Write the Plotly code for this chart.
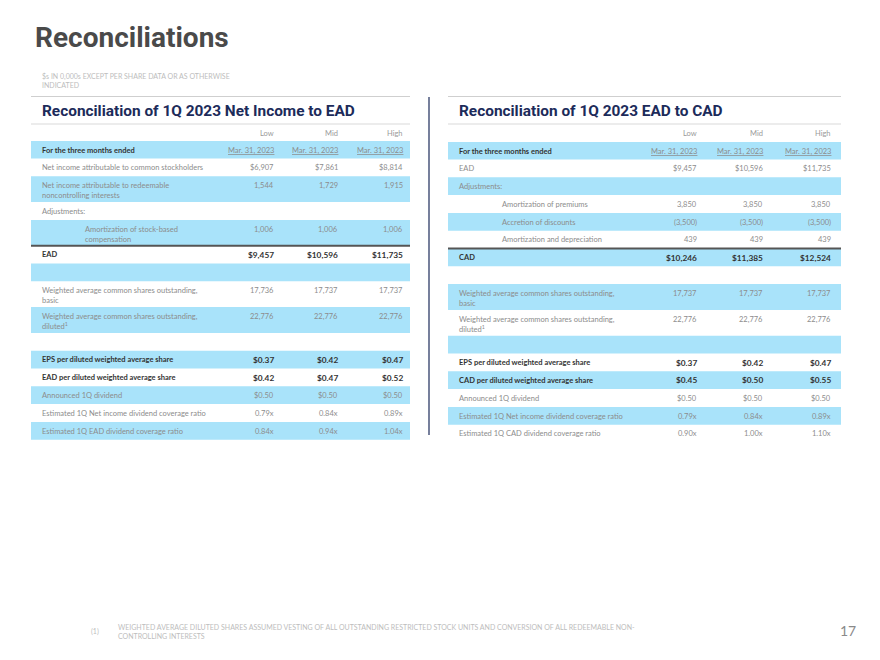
import plotly.graph_objects as go

# slide texts
title = "Reconciliations"
subtitle = "$s IN 0,000s EXCEPT PER SHARE DATA OR AS OTHERWISE<br>INDICATED"
left_title = "Reconciliation of 1Q 2023 Net Income to EAD"
right_title = "Reconciliation of 1Q 2023 EAD to CAD"
columns = ["Low", "Mid", "High"]
period_label = "For the three months ended"
periods = ["Mar. 31, 2023", "Mar. 31, 2023", "Mar. 31, 2023"]
footnote_num = "(1)"
footnote = ("WEIGHTED AVERAGE DILUTED SHARES ASSUMED VESTING OF ALL OUTSTANDING RESTRICTED STOCK UNITS AND CONVERSION OF ALL REDEEMABLE NON-"
            "<br>CONTROLLING INTERESTS")
page_num = "17"

# left table: net income -> EAD
left_labels = [
    "Net income attributable to common stockholders",
    "Net income attributable to redeemable<br>noncontrolling interests",
    "Adjustments:",
    "Amortization of stock-based<br>compensation",
    "EAD",
    "",
    "Weighted average common shares outstanding,<br>basic",
    "Weighted average common shares outstanding,<br>diluted<sup>1</sup>",
    "",
    "EPS per diluted weighted average share",
    "EAD per diluted weighted average share",
    "Announced 1Q dividend",
    "Estimated 1Q Net income dividend coverage ratio",
    "Estimated 1Q EAD dividend coverage ratio",
]
left_low = ["$6,907", "1,544", "", "1,006", "$9,457", "", "17,736", "22,776", "", "$0.37", "$0.42", "$0.50", "0.79x", "0.84x"]
left_mid = ["$7,861", "1,729", "", "1,006", "$10,596", "", "17,737", "22,776", "", "$0.42", "$0.47", "$0.50", "0.84x", "0.94x"]
left_high = ["$8,814", "1,915", "", "1,006", "$11,735", "", "17,737", "22,776", "", "$0.47", "$0.52", "$0.50", "0.89x", "1.04x"]

# right table: EAD -> CAD
right_labels = [
    "EAD",
    "Adjustments:",
    "Amortization of premiums",
    "Accretion of discounts",
    "Amortization and depreciation",
    "CAD",
    "",
    "Weighted average common shares outstanding,<br>basic",
    "Weighted average common shares outstanding,<br>diluted<sup>1</sup>",
    "",
    "EPS per diluted weighted average share",
    "CAD per diluted weighted average share",
    "Announced 1Q dividend",
    "Estimated 1Q Net income dividend coverage ratio",
    "Estimated 1Q CAD dividend coverage ratio",
]
right_low = ["$9,457", "", "3,850", "(3,500)", "439", "$10,246", "", "17,737", "22,776", "", "$0.37", "$0.45", "$0.50", "0.79x", "0.90x"]
right_mid = ["$10,596", "", "3,850", "(3,500)", "439", "$11,385", "", "17,737", "22,776", "", "$0.42", "$0.50", "$0.50", "0.84x", "1.00x"]
right_high = ["$11,735", "", "3,850", "(3,500)", "439", "$12,524", "", "17,737", "22,776", "", "$0.47", "$0.55", "$0.50", "0.89x", "1.10x"]

# styling per row
left_bold = [4, 9, 10]
left_indent = [3]
left_rule = 4
right_bold = [5, 10, 11]
right_indent = [2, 3, 4]
right_rule = 5

BAND = "#a9e3fa"
GREY = "#8c8c8c"
DARK = "#333333"
NAVY = "#1c2b5a"
BODY = "Lato, 'Open Sans', sans-serif"
HEAD = "Roboto, Arial, sans-serif"
SINGLE = 17.8
DOUBLE = 25.8
OFF = 8  # page body margin, so axis units match screen pixels

shapes = []
annotations = []


def text(x, y, s, size, color, xanchor="left", yanchor="middle", family=BODY):
    if not s:
        return
    annotations.append(dict(x=x, y=y, xref="x", yref="y", text=s, showarrow=False,
                            xanchor=xanchor, yanchor=yanchor, align=xanchor,
                            font=dict(size=size, color=color, family=family),
                            borderpad=0))


def line(x0, x1, y0, y1, color, width):
    shapes.append(dict(type="line", xref="x", yref="y", x0=x0, x1=x1, y0=y0, y1=y1,
                       line=dict(color=color, width=width)))


def band(x0, x1, y0, y1):
    shapes.append(dict(type="rect", xref="x", yref="y", x0=x0, x1=x1, y0=y0, y1=y1,
                       fillcolor=BAND, line=dict(width=0), layer="below"))


def draw_table(x0, x1, lab_x, ind_x, cols_x, heading, labels, low, mid, high,
               bold, indent, rule, head_top):
    line(x0, x1, 96.5, 96.5, "#cfcfcf", 1)
    text(lab_x, 110.5, "<b>" + heading + "</b>", 15.4, NAVY, family=HEAD)
    line(x0, x1, 124, 124, "#d9d9d9", 1)
    for cx, c in zip(cols_x, columns):
        text(cx, 133.5, c, 7.5, "#9a9a9a", xanchor="right")
    band(x0, x1, head_top, head_top + 17.5)
    text(lab_x, head_top + 9, "<b>" + period_label + "</b>", 7.5, DARK)
    for cx, p in zip(cols_x, periods):
        text(cx, head_top + 9, "<u>" + p + "</u>", 7.5, GREY, xanchor="right")
    y = head_top + 17.5
    for i, lab in enumerate(labels):
        h = DOUBLE if "<br>" in lab else SINGLE
        if i % 2 == 1:
            band(x0, x1, y, y + h)
        if i == rule:
            line(x0, x1, y, y, "#555555", 2)
        is_bold = i in bold
        lx = ind_x if i in indent else lab_x
        ty = y + 3.6
        if lab:
            if is_bold:
                text(lx, ty, "<b>" + lab + "</b>", 7.5, DARK, yanchor="top")
            else:
                text(lx, ty, lab, 7.5, GREY, yanchor="top")
        for cx, v in zip(cols_x, (low[i], mid[i], high[i])):
            if v == "":
                continue
            if is_bold:
                text(cx, ty - 0.5, "<b>" + v + "</b>", 8.3, DARK, xanchor="right", yanchor="top")
            else:
                text(cx, ty, v, 7.5, GREY, xanchor="right", yanchor="top")
        y += h


draw_table(31, 410, 41, 84, [275, 339, 404], left_title, left_labels,
           left_low, left_mid, left_high, left_bold, left_indent, left_rule, 141)
draw_table(448, 841, 458, 501, [698, 764, 832], right_title, right_labels,
           right_low, right_mid, right_high, right_bold, right_indent, right_rule, 142)

# divider between the two tables
line(429, 429, 97, 435, NAVY, 1.2)

text(34, 37, "<b>" + title + "</b>", 28, "#4a4a4a", family=HEAD)
text(41, 80, subtitle, 7, "#bdbdbd")
text(90, 631, footnote_num, 7, "#bdbdbd")
text(117, 631, footnote, 7, "#bdbdbd")
text(857, 630, page_num, 14, "#8a8a8a", xanchor="right")

fig = go.Figure()
fig.update_layout(
    width=880, height=660,
    margin=dict(l=0, r=0, t=0, b=0),
    paper_bgcolor="white", plot_bgcolor="white",
    xaxis=dict(range=[OFF, 880 + OFF], visible=False, fixedrange=True),
    yaxis=dict(range=[660 + OFF, OFF], visible=False, fixedrange=True),
    shapes=shapes, annotations=annotations, showlegend=False,
)
fig.write_html("out.html")
